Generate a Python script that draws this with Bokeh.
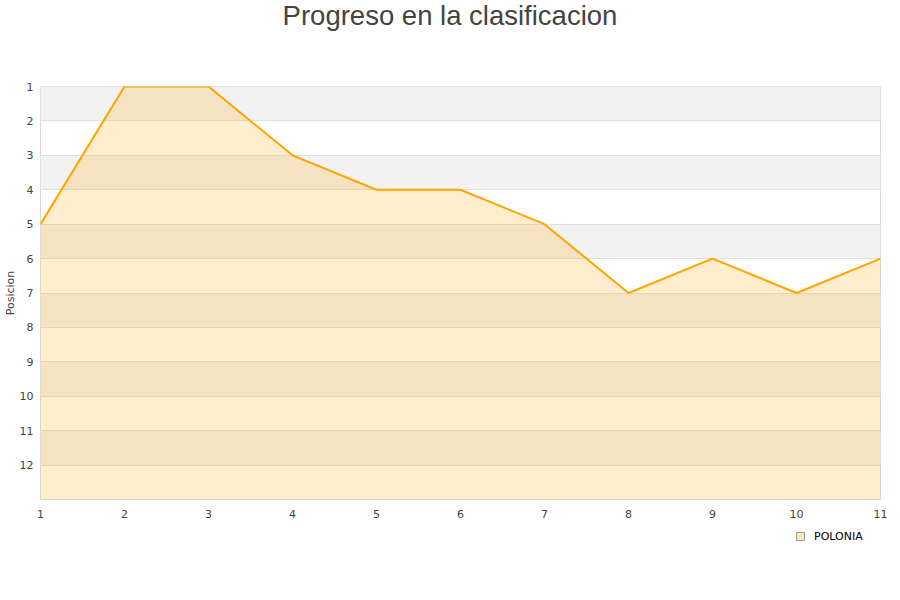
from bokeh.plotting import figure
from bokeh.models import Range1d, FixedTicker, Legend, LegendItem, Div
from bokeh.layouts import column
from bokeh.embed import file_html
from bokeh.resources import INLINE

jornadas = [1, 2, 3, 4, 5, 6, 7, 8, 9, 10, 11]
posiciones = [5, 1, 1, 3, 4, 4, 5, 7, 6, 7, 6]
y_ticks = list(range(1, 13))
x_ticks = list(range(1, 12))
band_tops = [1, 3, 5, 7, 9, 11]
team = "POLONIA"
title_text = "Progreso en la clasificacion"
y_label = "Posicion"
y_bottom = 13

title = Div(text=title_text, width=900, height=40,
            styles={"font-family": "Liberation Sans, Arial, sans-serif", "font-size": "27.5px",
                    "color": "#444444", "text-align": "center", "width": "890px",
                    "line-height": "22px"})

p = figure(width=900, height=475, output_backend="svg", toolbar_location=None,
           x_range=Range1d(1, 11), y_range=Range1d(y_bottom, 1),
           min_border_left=40, min_border_right=20, min_border_top=36, min_border_bottom=26)

p.background_fill_color = "white"
p.outline_line_color = "#d8d8d8"
p.outline_line_width = 1

p.xgrid.grid_line_color = None
p.ygrid.ticker = FixedTicker(ticks=list(range(1, y_bottom + 1)))
p.ygrid.grid_line_color = "#e0e0e0"

p.quad(left=jornadas[0], right=jornadas[-1], top=band_tops, bottom=[b + 1 for b in band_tops],
       fill_color="#f2f2f2", line_color=None, level="image")

p.varea(x=jornadas, y1=posiciones, y2=y_bottom, fill_color="#ffa500", fill_alpha=0.2)
p.line(jornadas, posiciones, line_color="#ffa500", line_width=2)

for ax in (p.xaxis[0], p.yaxis[0]):
    ax.axis_line_color = None
    ax.major_tick_line_color = None
    ax.minor_tick_line_color = None
    ax.major_label_text_font = "DejaVu Sans"
    ax.major_label_text_font_size = "11px"
    ax.major_label_text_color = "#444444"

p.xaxis.major_label_standoff = 4
p.yaxis.major_label_standoff = 1
p.xaxis.ticker = FixedTicker(ticks=x_ticks)
p.yaxis.ticker = FixedTicker(ticks=y_ticks)
p.yaxis.axis_label = y_label
p.yaxis.axis_label_standoff = 0
p.yaxis.axis_label_text_font = "DejaVu Sans"
p.yaxis.axis_label_text_font_size = "11px"
p.yaxis.axis_label_text_font_style = "normal"
p.yaxis.axis_label_text_color = "#444444"

lf = figure(width=900, height=75, output_backend="svg", toolbar_location=None,
            x_range=Range1d(0, 1), y_range=Range1d(0, 1), x_axis_type=None, y_axis_type=None,
            min_border=0)
lf.outline_line_color = None
lf.grid.grid_line_color = None
dummy = lf.scatter(x=[float("nan")], y=[float("nan")], marker="square", size=8,
                   fill_color="#fde6c0", line_color="#999999")
legend = Legend(items=[LegendItem(label=team, renderers=[dummy])], location=(750, 54),
                border_line_color=None, background_fill_alpha=0, glyph_width=20, glyph_height=20,
                label_standoff=4, padding=0, margin=0, label_text_font_size="11px",
                label_text_font="DejaVu Sans", label_text_color="#000000")
lf.add_layout(legend, "center")

layout = column(title, p, lf, spacing=0)

open("out.html", "w").write(file_html(layout, INLINE))
